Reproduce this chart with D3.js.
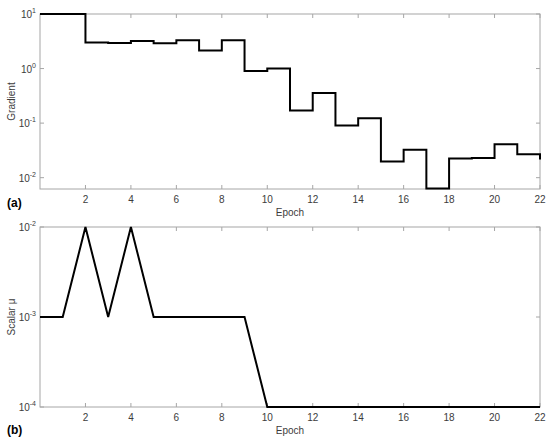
<!DOCTYPE html>
<html>
<head>
<meta charset="utf-8">
<script src="https://cdn.jsdelivr.net/npm/d3@7/dist/d3.min.js"></script>
<style>
  html, body { margin: 0; padding: 0; background: #fff; }
  svg { display: block; font-family: "Liberation Sans", Arial, Helvetica, sans-serif; }
</style>
</head>
<body>
<svg id="chart" width="550" height="446"></svg>
<script>
// ---- data ----
const epochs = [0,1,2,3,4,5,6,7,8,9,10,11,12,13,14,15,16,17,18,19,20,21,22];
const gradient = [10,10,3.0,2.95,3.2,2.9,3.3,2.14,3.3,0.9,1.0,0.17,0.357,0.09,0.123,0.0197,0.0326,0.0063,0.0224,0.0229,0.041,0.027,0.0216];
const scalarMu = [1e-3,1e-3,1e-2,1e-3,1e-2,1e-3,1e-3,1e-3,1e-3,1e-3,1e-4,1e-4,1e-4,1e-4,1e-4,1e-4,1e-4,1e-4,1e-4,1e-4,1e-4,1e-4,1e-4];
const xTicks = [2,4,6,8,10,12,14,16,18,20,22];
const gradTicks = [1e-2,1e-1,1e0,1e1];
const muTicks = [1e-4,1e-3,1e-2];

const svg = d3.select("#chart");
const axisColor = "#a6a6a6";
const textColor = "#3c3c3c";

function panel(cfg) {
  const {top, bottom, yDomain, yTicks, values, curve, ylabel, tag, tagY} = cfg;
  const left = 40, right = 540;
  const x = d3.scaleLinear().domain([0, 22]).range([left, right]);
  const y = d3.scaleLog().domain(yDomain).range([bottom, top]);
  const g = svg.append("g");

  // box
  g.append("rect").attr("x", left).attr("y", top)
    .attr("width", right - left).attr("height", bottom - top)
    .attr("fill", "none").attr("stroke", axisColor).attr("stroke-width", 1);

  const tl = 4;
  // x ticks bottom & top (inward)
  xTicks.forEach(t => {
    g.append("line").attr("x1", x(t)).attr("x2", x(t)).attr("y1", bottom).attr("y2", bottom - tl)
      .attr("stroke", axisColor);
    g.append("line").attr("x1", x(t)).attr("x2", x(t)).attr("y1", top).attr("y2", top + tl)
      .attr("stroke", axisColor);
    g.append("text").attr("x", x(t)).attr("y", bottom + 14)
      .attr("text-anchor", "middle").attr("font-size", 10).attr("fill", textColor).text(t);
  });
  // y ticks left & right
  yTicks.forEach(t => {
    g.append("line").attr("x1", left).attr("x2", left + tl).attr("y1", y(t)).attr("y2", y(t))
      .attr("stroke", axisColor);
    g.append("line").attr("x1", right).attr("x2", right - tl).attr("y1", y(t)).attr("y2", y(t))
      .attr("stroke", axisColor);
    const txt = g.append("text").attr("x", left - 4).attr("y", y(t) + 4)
      .attr("text-anchor", "end").attr("font-size", 10).attr("fill", textColor);
    const e = Math.round(Math.log10(t));
    txt.append("tspan").text("10");
    txt.append("tspan").attr("dy", -5).attr("font-size", 7).text(e);
  });

  // data line
  const line = d3.line().x((d, i) => x(epochs[i])).y(d => y(d)).curve(curve);
  g.append("path").datum(values).attr("d", line)
    .attr("fill", "none").attr("stroke", "#000").attr("stroke-width", 2)
    .attr("stroke-linejoin", "miter");

  // labels
  g.append("text").attr("x", (left + right) / 2).attr("y", bottom + 27)
    .attr("text-anchor", "middle").attr("font-size", 10).attr("fill", textColor).text("Epoch");
  g.append("text").attr("transform", `translate(15,${(top + bottom) / 2}) rotate(-90)`)
    .attr("text-anchor", "middle").attr("font-size", 10).attr("fill", textColor).text(ylabel);
  g.append("text").attr("x", 7).attr("y", tagY)
    .attr("font-size", 12).attr("font-weight", "bold").attr("fill", "#000").text(tag);
}

panel({top: 14, bottom: 189, yDomain: [0.0062, 10], yTicks: gradTicks, values: gradient,
       curve: d3.curveStepAfter, ylabel: "Gradient", tag: "(a)", tagY: 207});
panel({top: 227, bottom: 407, yDomain: [1e-4, 1e-2], yTicks: muTicks, values: scalarMu,
       curve: d3.curveLinear, ylabel: "Scalar μ", tag: "(b)", tagY: 434});
</script>
</body>
</html>
